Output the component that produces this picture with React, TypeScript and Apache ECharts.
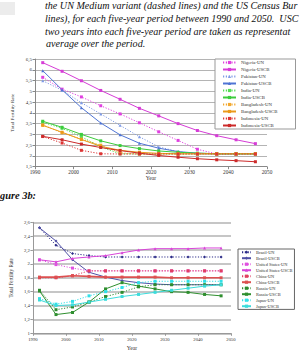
import React, { useEffect, useRef } from "react";
import * as echarts from "echarts";

// ---------- data ----------
const years = [1992, 1997, 2002, 2007, 2012, 2017, 2022, 2027, 2032, 2037, 2042, 2047];

// Figure 3a
const nigeriaUN = [5.65, 5.1, 4.74, 4.33, 3.95, 3.54, 3.12, 2.72, 2.31, 2.09, 2.09, 2.09];
const nigeriaUSCB = [6.33, 5.93, 5.49, 5.04, 4.63, 4.21, 3.86, 3.5, 3.18, 2.94, 2.75, 2.57];
const pakistanUN = [5.49, 5.05, 4.47, 3.95, 3.42, 2.89, 2.42, 2.2, 2.09, 2.09, 2.09, 2.09];
const pakistanUSCB = [5.96, 5.07, 4.24, 3.53, 2.98, 2.59, 2.36, 2.2, 2.13, 2.1, 2.1, 2.1];
const indiaUN = [3.56, 3.28, 2.89, 2.42, 2.1, 2.09, 2.09, 2.09, 2.09, 2.09, 2.09, 2.09];
const indiaUSCB = [3.61, 3.33, 3.0, 2.7, 2.48, 2.34, 2.23, 2.17, 2.13, 2.1, 2.1, 2.1];
const bangladeshUN = [3.44, 3.07, 2.78, 2.5, 2.14, 2.09, 2.09, 2.09, 2.09, 2.09, 2.09, 2.09];
const bangladeshUSCB = [3.42, 3.1, 2.76, 2.45, 2.26, 2.17, 2.12, 2.1, 2.1, 2.1, 2.1, 2.1];
const indonesiaUN = [2.9, 2.6, 2.26, 2.1, 2.09, 2.09, 2.09, 2.09, 2.09, 2.09, 2.09, 2.09];
const indonesiaUSCB = [2.91, 2.75, 2.55, 2.39, 2.25, 2.13, 2.02, 1.94, 1.87, 1.82, 1.78, 1.73];

// Figure 3b
const brazilUN = [2.52, 2.27, 2.15, 2.12, 2.1, 2.1, 2.1, 2.1, 2.1, 2.1, 2.1, 2.1];
const brazilUSCB = [2.52, 2.33, 2.06, 1.88, 1.81, 1.76, 1.73, 1.71, 1.7, 1.7, 1.7, 1.7];
const usUN = [2.06, 1.99, 1.94, 1.9, 1.9, 1.9, 1.9, 1.9, 1.9, 1.9, 1.9, 1.9];
const usUSCB = [2.06, 2.03, 2.08, 2.1, 2.12, 2.16, 2.2, 2.22, 2.22, 2.22, 2.23, 2.23];
const chinaUN = [1.8, 1.8, 1.83, 1.9, 1.9, 1.9, 1.9, 1.9, 1.9, 1.9, 1.9, 1.9];
const chinaUSCB = [1.81, 1.81, 1.83, 1.82, 1.81, 1.81, 1.81, 1.81, 1.8, 1.8, 1.8, 1.8];
const russiaUN = [1.62, 1.34, 1.38, 1.45, 1.53, 1.59, 1.67, 1.7, 1.7, 1.7, 1.7, 1.7];
const russiaUSCB = [1.61, 1.27, 1.3, 1.45, 1.64, 1.73, 1.68, 1.64, 1.6, 1.59, 1.56, 1.54];
const japanUN = [1.5, 1.42, 1.46, 1.54, 1.6, 1.66, 1.73, 1.75, 1.75, 1.75, 1.75, 1.75];
const japanUSCB = [1.48, 1.4, 1.41, 1.45, 1.49, 1.53, 1.56, 1.59, 1.62, 1.65, 1.68, 1.7];

// visible part of the caption (the page is cropped at the right edge)
const captionLines = [
  "the UN Medium variant (dashed lines) and the US Census Bur",
  "lines), for each five-year period between 1990 and 2050.  USC",
  "two years into each five-year period are taken as representat",
  "average over the period.",
];
const figure3bLabel = "gure 3b:";
const axisYName = "Total Fertility Rate";
const axisXName = "Year";

const SERIF = "Liberation Serif, Times New Roman, serif";

const fmt = (v: number) => String(Math.round(v * 10) / 10).replace(".", ",");

function mk(
  name: string,
  vals: number[],
  color: string,
  dotted: boolean,
  symbol: string,
  idx: number,
  width = 1
) {
  return {
    type: "line",
    name,
    xAxisIndex: idx,
    yAxisIndex: idx,
    data: years.map((y, i) => [y, vals[i]]),
    symbol,
    symbolSize: 3,
    showSymbol: true,
    itemStyle: { color },
    lineStyle: { color, width, type: dotted ? [1.2, 1.6] : "solid" },
    emphasis: { disabled: true },
  };
}

export default function App() {
  const ref = useRef<HTMLDivElement>(null);
  useEffect(() => {
    const chart = echarts.init(ref.current!, null, { renderer: "svg" });
    const a = [
      mk("Nigeria-UN", nigeriaUN, "#e040e0", true, "rect", 0),
      mk("Nigeria-USCB", nigeriaUSCB, "#d63cd6", false, "rect", 0),
      mk("Pakistan-UN", pakistanUN, "#7f9be6", true, "triangle", 0),
      mk("Pakistan-USCB", pakistanUSCB, "#4f74d4", false, "triangle", 0),
      mk("India-UN", indiaUN, "#55dd55", true, "rect", 0),
      mk("India-USCB", indiaUSCB, "#3ccc3c", false, "rect", 0),
      mk("Bangladesh-UN", bangladeshUN, "#f2a830", true, "rect", 0),
      mk("Bangladesh-USCB", bangladeshUSCB, "#eb9a1a", false, "rect", 0),
      mk("Indonesia-UN", indonesiaUN, "#dd3535", true, "rect", 0),
      mk("Indonesia-USCB", indonesiaUSCB, "#cc2a2a", false, "rect", 0),
    ];
    const b = [
      mk("Brazil-UN", brazilUN, "#2c2c88", true, "diamond", 1),
      mk("Brazil-USCB", brazilUSCB, "#5050a6", false, "diamond", 1),
      mk("United States-UN", usUN, "#e050e0", true, "rect", 1),
      mk("United States-USCB", usUSCB, "#d845d8", false, "triangle", 1),
      mk("China-UN", chinaUN, "#e04060", true, "rect", 1),
      mk("China-USCB", chinaUSCB, "#dd5050", false, "rect", 1, 1.6),
      mk("Russia-UN", russiaUN, "#2e8b2e", true, "rect", 1),
      mk("Russia-USCB", russiaUSCB, "#2f8f2f", false, "rect", 1),
      mk("Japan-UN", japanUN, "#30e0e8", true, "rect", 1),
      mk("Japan-USCB", japanUSCB, "#3cdcdc", false, "rect", 1),
    ];

    const axisLabel = (fs: number, margin: number) => ({
      fontSize: fs,
      fontFamily: SERIF,
      color: "#333",
      margin,
      formatter: fmt,
    });

    const option: any = {
      animation: false,
      backgroundColor: "#fff",
      grid: [
        { left: 35, top: 59, width: 232, height: 107.7 },
        { left: 31, top: 222.3, width: 200, height: 111 },
      ],
      xAxis: [
        {
          type: "value",
          gridIndex: 0,
          min: 1990,
          max: 2050,
          interval: 10,
          axisLine: { lineStyle: { color: "#888", width: 1 } },
          axisTick: { show: true, length: 2.5, lineStyle: { color: "#888" } },
          axisLabel: {
            fontSize: 5.3,
            fontFamily: SERIF,
            color: "#333",
            margin: 2.5,
            formatter: (v: number) => String(v),
          },
          splitLine: { show: false },
          name: axisXName,
          nameLocation: "middle",
          nameGap: 8.5,
          nameTextStyle: { fontSize: 5.6, fontFamily: SERIF, color: "#333" },
        },
        {
          type: "value",
          gridIndex: 1,
          min: 1990,
          max: 2050,
          interval: 10,
          axisLine: { lineStyle: { color: "#999", width: 1 } },
          axisTick: { show: true, length: 2.5, lineStyle: { color: "#999" } },
          axisLabel: {
            fontSize: 4.7,
            fontFamily: SERIF,
            color: "#333",
            margin: 3.5,
            formatter: (v: number) => String(v),
          },
          splitLine: { show: false },
          name: axisXName,
          nameLocation: "middle",
          nameGap: 12,
          nameTextStyle: { fontSize: 5.6, fontFamily: SERIF, color: "#333" },
        },
      ],
      yAxis: [
        {
          type: "value",
          gridIndex: 0,
          min: 1.5,
          max: 6.5,
          interval: 0.5,
          axisLine: { show: true, lineStyle: { color: "#888", width: 1 } },
          axisTick: { show: true, length: 2.5, lineStyle: { color: "#888" } },
          axisLabel: axisLabel(5, 3),
          splitLine: { show: true, lineStyle: { color: "#b4b4b4", width: 1 } },
          name: axisYName,
          nameLocation: "middle",
          nameGap: 13.5,
          nameRotate: 90,
          nameTextStyle: { fontSize: 5, fontFamily: SERIF, color: "#333" },
        },
        {
          type: "value",
          gridIndex: 1,
          min: 1,
          max: 2.6,
          interval: 0.2,
          axisLine: { show: true, lineStyle: { color: "#999", width: 1 } },
          axisTick: { show: true, length: 2.5, lineStyle: { color: "#999" } },
          axisLabel: axisLabel(4.8, 3),
          splitLine: { show: true, lineStyle: { color: "#c6c6c6", width: 2 } },
          name: axisYName,
          nameLocation: "middle",
          nameGap: 11.7,
          nameRotate: 90,
          nameTextStyle: { fontSize: 5.2, fontFamily: SERIF, color: "#333" },
        },
      ],
      legend: [
        {
          data: a.map((s) => s.name),
          orient: "vertical",
          left: 215,
          top: 59,
          itemWidth: 13,
          itemHeight: 4,
          itemGap: 2,
          padding: [1, 18, 1, 7],
          borderColor: "#999",
          borderWidth: 1,
          borderRadius: 0,
          backgroundColor: "#fff",
          selectedMode: false,
          textStyle: { fontSize: 4.8, lineHeight: 5, fontFamily: SERIF, color: "#333" },
        },
        {
          data: b.map((s) => s.name),
          orient: "vertical",
          left: 238,
          top: 249,
          itemWidth: 9,
          itemHeight: 4,
          itemGap: 1.6,
          padding: [1, 2, 1, 3],
          borderColor: "#666",
          borderWidth: 1,
          borderRadius: 0,
          backgroundColor: "#fff",
          selectedMode: false,
          textStyle: { fontSize: 4.4, lineHeight: 4.4, fontFamily: SERIF, color: "#333" },
        },
      ],
      graphic: [
        { type: "rect", shape: { x: 0, y: 2, width: 15, height: 13 }, style: { fill: "#ececec" } },
        ...captionLines.map((t, i) => ({
          type: "text",
          x: i === 3 ? 46 : 45,
          y: [5.5, 18.2, 31, 43.8][i],
          style: {
            text: t,
            fontSize: 10.1,
            fontStyle: "italic",
            fontFamily: SERIF,
            fill: "#111",
            verticalAlign: "middle",
          },
        })),
        {
          type: "text",
          x: 0,
          y: 195,
          style: {
            text: figure3bLabel,
            fontSize: 10.4,
            fontStyle: "italic",
            fontWeight: "bold",
            fontFamily: SERIF,
            fill: "#111",
            verticalAlign: "middle",
          },
        },
      ],
      series: [...a, ...b],
    };
    chart.setOption(option);
    return () => chart.dispose();
  }, []);
  return (
    <div
      ref={ref}
      style={{ position: "absolute", left: 0, top: 0, width: 302, height: 356, background: "#fff" }}
    />
  );
}
